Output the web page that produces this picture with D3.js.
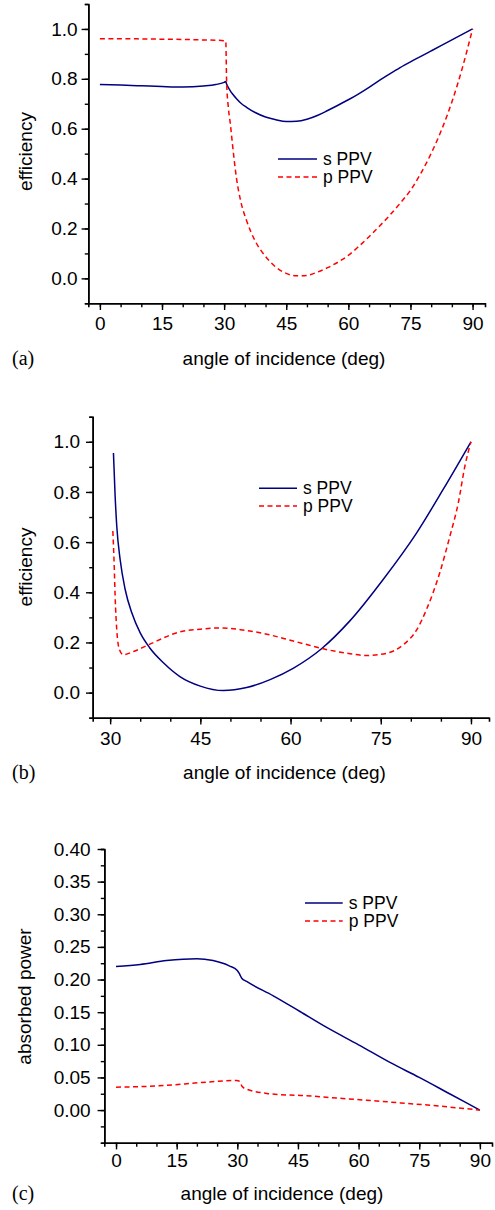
<!DOCTYPE html>
<html>
<head>
<meta charset="utf-8">
<script src="https://cdn.jsdelivr.net/npm/d3@7"></script>
<style>
  body { margin: 0; background: #fff; }
  svg text { font-family: "Liberation Sans", Arial, sans-serif; fill: #000; }
  .tag { font-family: "Liberation Serif", "Times New Roman", serif; }
</style>
</head>
<body>
<svg id="chart" width="495" height="1210"></svg>
<script>
// panel (a) - efficiency, 0..90 deg
const aAngle = [0, 5, 10, 15, 20, 25, 28, 30, 30.4, 30.6, 31, 31.5, 32, 33, 34, 35.5, 37.5, 40, 42.5, 45, 47.5, 50,
  52.5, 55, 57.5, 60, 62.5, 65, 67.5, 70, 72.5, 75, 77.5, 80, 82.5, 85, 87.5, 90]
const aS = [0.777, 0.775, 0.772, 0.769, 0.767, 0.771, 0.777, 0.786, 0.789, 0.779, 0.766, 0.752, 0.740, 0.720, 0.703,
  0.685, 0.665, 0.647, 0.636, 0.629, 0.630, 0.638, 0.653, 0.673, 0.694, 0.716, 0.740, 0.766, 0.794, 0.820, 0.845,
  0.868, 0.890, 0.912, 0.934, 0.956, 0.978, 1.0]
const aP = [0.961, 0.961, 0.960, 0.959, 0.958, 0.956, 0.955, 0.953, 0.952, 0.79, 0.688, 0.62, 0.54, 0.40, 0.31,
  0.228, 0.150, 0.088, 0.045, 0.020, 0.010, 0.012, 0.025, 0.043, 0.065, 0.092, 0.128, 0.167, 0.209, 0.253, 0.301,
  0.353, 0.421, 0.501, 0.595, 0.707, 0.842, 1.0]

// panel (b) - efficiency above the critical angle
const bSAngle = [30.55, 30.83, 31.1, 31.66, 32.5, 33.6, 35, 36.6, 38.9, 41.6, 45, 48.8, 52.7, 56.6, 60.5, 65.2,
  69.9, 75.4, 81, 85.4, 90]
const bS = [0.955, 0.784, 0.664, 0.531, 0.411, 0.318, 0.238, 0.178, 0.118, 0.064, 0.026, 0.008, 0.020, 0.052, 0.098,
  0.176, 0.287, 0.451, 0.638, 0.811, 1.0]
const bPAngle = [30.45, 30.66, 30.83, 31.1, 31.55, 32.2, 33.9, 36.4, 41.6, 45, 48.3, 52, 55.5, 59, 62, 65.2, 69.9,
  72.7, 76, 78.75, 81, 82.6, 84.8, 86.5, 87.9, 89, 90]
const bP = [0.644, 0.518, 0.384, 0.251, 0.171, 0.151, 0.164, 0.191, 0.242, 0.253, 0.258, 0.250, 0.236, 0.215, 0.196,
  0.176, 0.155, 0.148, 0.157, 0.191, 0.251, 0.331, 0.477, 0.624, 0.757, 0.904, 1.0]

// panel (c) - absorbed power
const cSAngle = [0, 6, 12.5, 20, 24, 28, 30, 30.6, 31.1, 32.3, 38.9, 45.5, 52, 60, 67.75, 75, 82.5, 90]
const cS = [0.220, 0.223, 0.229, 0.232, 0.229, 0.221, 0.214, 0.208, 0.202, 0.197, 0.175, 0.151, 0.127, 0.100,
  0.073, 0.050, 0.025, 0.0]
const cPAngle = [0, 12.5, 20.8, 29.8, 30.6, 31.2, 32.3, 37.3, 43, 45.5, 55.4, 67.75, 80.1, 90]
const cP = [0.035, 0.0378, 0.042, 0.0454, 0.044, 0.036, 0.032, 0.0255, 0.023, 0.0225, 0.018, 0.0123, 0.006, 0.0]

const seriesNames = ['s PPV', 'p PPV']
const xTitle = 'angle of incidence (deg)'

const svg = d3.select('#chart')

function drawPanel(p) {
  const g = svg.append('g')

  const x = d3.scaleLinear().domain(p.xDomain).range(p.xRange)
  const y = d3.scaleLinear().domain(p.yDomain).range(p.yRange)

  // minor ticks first
  g.append('g')
    .attr('transform', `translate(0,${p.yRange[0]})`)
    .call(d3.axisBottom(x).tickValues(p.xMinor).tickSize(4).tickFormat(''))
  g.append('g')
    .attr('transform', `translate(${p.xRange[0]},0)`)
    .call(d3.axisLeft(y).tickValues(p.yMinor).tickSize(3.5).tickFormat(''))

  g.append('g')
    .attr('transform', `translate(0,${p.yRange[0]})`)
    .call(d3.axisBottom(x).tickValues(p.xTicks).tickSize(6.7).tickSizeOuter(0).tickPadding(p.xPad).tickFormat(d3.format('d')))
  g.append('g')
    .attr('transform', `translate(${p.xRange[0]},0)`)
    .call(d3.axisLeft(y).tickValues(p.yTicks).tickSize(6.7).tickSizeOuter(0).tickPadding(p.yPad).tickFormat(d3.format(p.yFmt)))

  g.selectAll('.domain').attr('stroke', '#000').attr('stroke-width', 1.6)
  g.selectAll('.tick line').attr('stroke', '#000').attr('stroke-width', 1.4)
  g.selectAll('.tick text').style('font-size', '19px').attr('fill', '#000')
    .style('font-family', '"Liberation Sans", Arial, sans-serif')

  const line = d3.line().x(d => x(d[0])).y(d => y(d[1])).curve(d3.curveMonotoneX)

  g.append('path')
    .datum(d3.zip(p.sAngle, p.sVal))
    .attr('fill', 'none')
    .attr('stroke', '#000080')
    .attr('stroke-width', 1.5)
    .attr('d', line)
  g.append('path')
    .datum(d3.zip(p.pAngle, p.pVal))
    .attr('fill', 'none')
    .attr('stroke', '#ff0000')
    .attr('stroke-width', 1.5)
    .attr('stroke-dasharray', '5,3.5')
    .attr('d', line)

  // legend
  const lg = g.append('g')
  seriesNames.forEach((name, i) => {
    const ly = p.legY[i]
    lg.append('line')
      .attr('x1', p.legX[0]).attr('x2', p.legX[1])
      .attr('y1', ly).attr('y2', ly)
      .attr('stroke', i === 0 ? '#000080' : '#ff0000')
      .attr('stroke-width', 1.5)
      .attr('stroke-dasharray', i === 0 ? null : '5,3.5')
    lg.append('text')
      .attr('x', p.legX[1] + 6)
      .attr('y', ly + 6)
      .style('font-size', '17.5px')
      .text(name)
  })

  // titles
  g.append('text')
    .attr('x', p.xTitlePos[0]).attr('y', p.xTitlePos[1])
    .attr('text-anchor', 'middle')
    .style('font-size', '19px')
    .text(xTitle)
  g.append('text')
    .attr('transform', `translate(${p.yTitlePos[0]},${p.yTitlePos[1]}) rotate(-90)`)
    .attr('text-anchor', 'middle')
    .style('font-size', '19px')
    .text(p.yTitle)
  g.append('text')
    .attr('class', 'tag')
    .attr('x', 12).attr('y', p.xTitlePos[1])
    .style('font-size', '20px')
    .text(p.tag)
}

drawPanel({
  tag: '(a)', yTitle: 'efficiency',
  xDomain: [-2.8, 93], xRange: [88.3, 485],
  yDomain: [-0.1, 1.1], yRange: [303.3, 4],
  xTicks: d3.range(0, 91, 15), xMinor: d3.range(0, 91, 5),
  yTicks: d3.range(0, 11, 2).map(v => v / 10), yMinor: d3.range(-1, 12).map(v => v / 10),
  yFmt: '.1f', xPad: 6.5, yPad: 4,
  sAngle: aAngle, sVal: aS, pAngle: aAngle, pVal: aP,
  legX: [278, 317], legY: [159, 177],
  xTitlePos: [284, 365], yTitlePos: [31.5, 151.5]
})

drawPanel({
  tag: '(b)', yTitle: 'efficiency',
  xDomain: [27.1, 93], xRange: [92.7, 489],
  yDomain: [-0.1, 1.1], yRange: [717.7, 416.7],
  xTicks: d3.range(30, 91, 15), xMinor: d3.range(30, 91, 5),
  yTicks: d3.range(0, 11, 2).map(v => v / 10), yMinor: d3.range(-1, 12).map(v => v / 10),
  yFmt: '.1f', xPad: 7, yPad: 6,
  sAngle: bSAngle, sVal: bS, pAngle: bPAngle, pVal: bP,
  legX: [259, 297], legY: [488.3, 506],
  xTitlePos: [284.5, 779], yTitlePos: [31.5, 567]
})

drawPanel({
  tag: '(c)', yTitle: 'absorbed power',
  xDomain: [-2.9, 93], xRange: [104.3, 492],
  yDomain: [-0.05, 0.40], yRange: [1142.7, 849],
  xTicks: d3.range(0, 91, 15), xMinor: d3.range(0, 91, 5),
  yTicks: d3.range(0, 9).map(v => v * 0.05), yMinor: d3.range(-2, 17).map(v => v * 0.025),
  yFmt: '.2f', xPad: 4.5, yPad: 7,
  sAngle: cSAngle, sVal: cS, pAngle: cPAngle, pVal: cP,
  legX: [305, 342.7], legY: [903, 921],
  xTitlePos: [282, 1200], yTitlePos: [31, 996.5]
})
</script>
</body>
</html>
